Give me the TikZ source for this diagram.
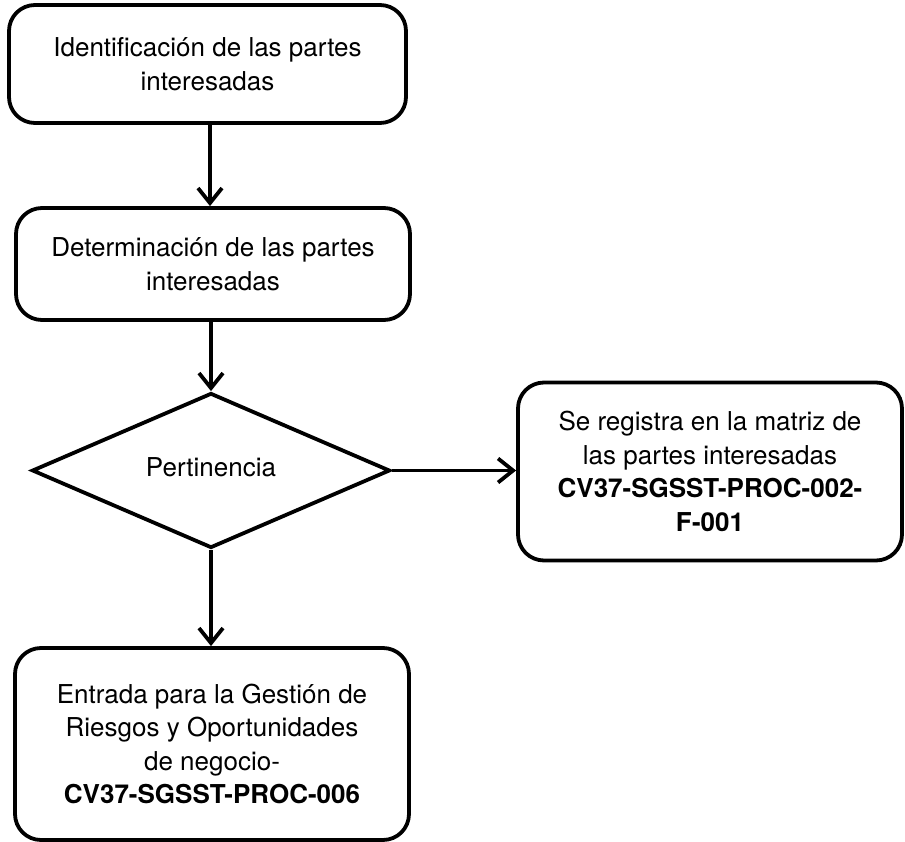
\documentclass[tikz,border=0pt]{standalone}
\usepackage{fontspec}
\setmainfont{TeX Gyre Heros}
\usetikzlibrary{shapes.geometric,arrows.meta}
\begin{document}
\begin{tikzpicture}[x=1pt,y=-1pt,
  box/.style={draw,line width=3.8pt,rounded corners=26pt,align=center,inner sep=0pt,
    font=\fontsize{26}{33.5}\selectfont},
  dia/.style={draw,line width=3.8pt,diamond,inner sep=0pt,font=\fontsize{26}{33.5}\selectfont},
  arr/.style={line width=3.8pt,-{Straight Barb[length=15pt,width=24pt]}}]
\useasboundingbox (0,0) rectangle (905,842);
\node[box,minimum width=397pt,minimum height=118pt] (b1) at (207.5,64) {Identificación de las partes\\interesadas};
\node[box,minimum width=394pt,minimum height=112pt] (b2) at (213,264) {Determinación de las partes\\interesadas};
\node[dia,minimum width=358pt,minimum height=149pt] (d) at (211,470.5) {\raisebox{6pt}{Pertinencia}};
\node[box,minimum width=384pt,minimum height=178pt] (r) at (710,471.5) {Se registra en la matriz de\\las partes interesadas\\\textbf{CV37-SGSST-PROC-002-}\\\textbf{F-001}};
\node[box,minimum width=394pt,minimum height=192pt] (b3) at (212,744) {Entrada para la Gestión de\\Riesgos y Oportunidades\\de negocio-\\\textbf{CV37-SGSST-PROC-006}};
\draw[arr] (b1.south -| 210,0) -- (b2.north -| 210,0);
\draw[arr] (b2.south -| 211,0) -- (d.north);
\draw[arr] (d.east) -- (r.west |- d.east);
\draw[arr] (d.south) -- (b3.north -| d.south);
\end{tikzpicture}
\end{document}
